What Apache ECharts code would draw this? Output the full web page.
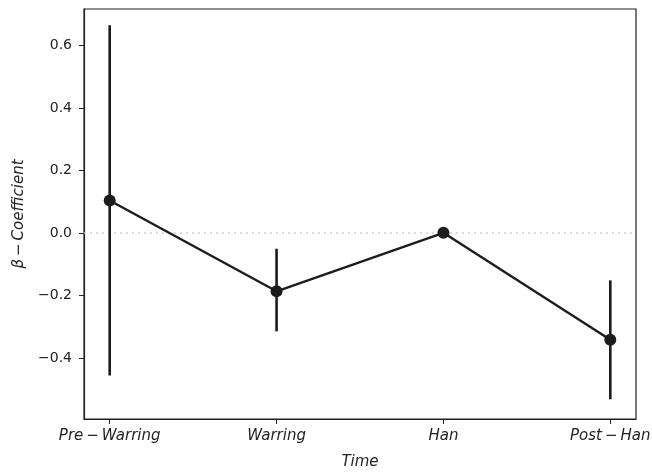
<!DOCTYPE html>
<html><head><meta charset="utf-8">
<script src="https://cdn.jsdelivr.net/npm/echarts@6/dist/echarts.min.js"></script>
<style>html,body{margin:0;padding:0;background:#fff}#c{width:652px;height:472px}</style>
</head><body><div id="c"></div>
<script>
const categories = ['Pre\u2009\u2212\u2009Warring', 'Warring', 'Han', 'Post\u2009\u2212\u2009Han'];
const coef = [0.104, -0.186, 0.001, -0.341];
const ciLow = [-0.455, -0.314, 0.001, -0.531];
const ciHigh = [0.664, -0.050, 0.001, -0.151];
const yTicks = [-0.4, -0.2, 0.0, 0.2, 0.4, 0.6];
const xTicks = [0, 1, 2, 3];

const ink = '#1c1c1c';
const font = 'DejaVu Sans';
const chart = echarts.init(document.getElementById('c'));
chart.setOption({
  animation: false,
  grid: {left: 84, top: 9, right: 16, bottom: 53, containLabel: false, outerBoundsMode: 'none',
    show: true, borderColor: '#222', borderWidth: 1.2, backgroundColor: 'transparent'},
  xAxis: {
    type: 'value', min: -0.154, max: 3.154,
    name: 'Time', nameLocation: 'middle', nameGap: 36,
    nameTextStyle: {fontFamily: font, fontSize: 15, fontStyle: 'italic', color: '#222'},
    axisLine: {show: true, onZero: false, lineStyle: {color: '#222', width: 1.2}},
    axisTick: {show: true, length: 5, inside: false, customValues: xTicks, lineStyle: {color: '#222'}},
    axisLabel: {customValues: xTicks, margin: 10, fontFamily: font, fontSize: 15, fontStyle: 'italic', color: '#222',
      formatter: v => categories[Math.round(v)] || ''},
    splitLine: {show: false}
  },
  yAxis: {
    type: 'value', min: -0.594, max: 0.716,
    name: '\u03b2\u2009\u2212\u2009Coefficient', nameLocation: 'middle', nameGap: 57,
    nameTextStyle: {fontFamily: font, fontSize: 15, fontStyle: 'italic', color: '#222'},
    axisLine: {show: true, onZero: false, lineStyle: {color: '#222', width: 1.2}},
    axisTick: {show: true, length: 5, customValues: yTicks, lineStyle: {color: '#222'}},
    axisLabel: {customValues: yTicks, margin: 12, fontFamily: font, fontSize: 14, color: '#222',
      formatter: v => (v < 0 ? '\u2212' : '') + Math.abs(v).toFixed(1)},
    splitLine: {show: false}
  },
  series: [
    {
      type: 'line', data: [[-0.154, 0], [3.154, 0]], symbol: 'none', silent: true,
      lineStyle: {color: '#cfcfcf', width: 1.5, type: [2, 4]}, z: 1
    },
    {
      type: 'custom', z: 2,
      data: coef.map((c, i) => [i, ciLow[i], ciHigh[i]]),
      renderItem: (params, api) => {
        const a = api.coord([api.value(0), api.value(1)]);
        const b = api.coord([api.value(0), api.value(2)]);
        return {type: 'line', shape: {x1: a[0], y1: a[1], x2: b[0], y2: b[1]},
          style: {stroke: ink, lineWidth: 2.6}};
      }
    },
    {
      type: 'line', z: 3,
      data: coef.map((c, i) => [i, c]),
      symbol: 'circle', symbolSize: 12,
      itemStyle: {color: ink},
      lineStyle: {color: ink, width: 2.4}
    }
  ]
});
</script></body></html>
